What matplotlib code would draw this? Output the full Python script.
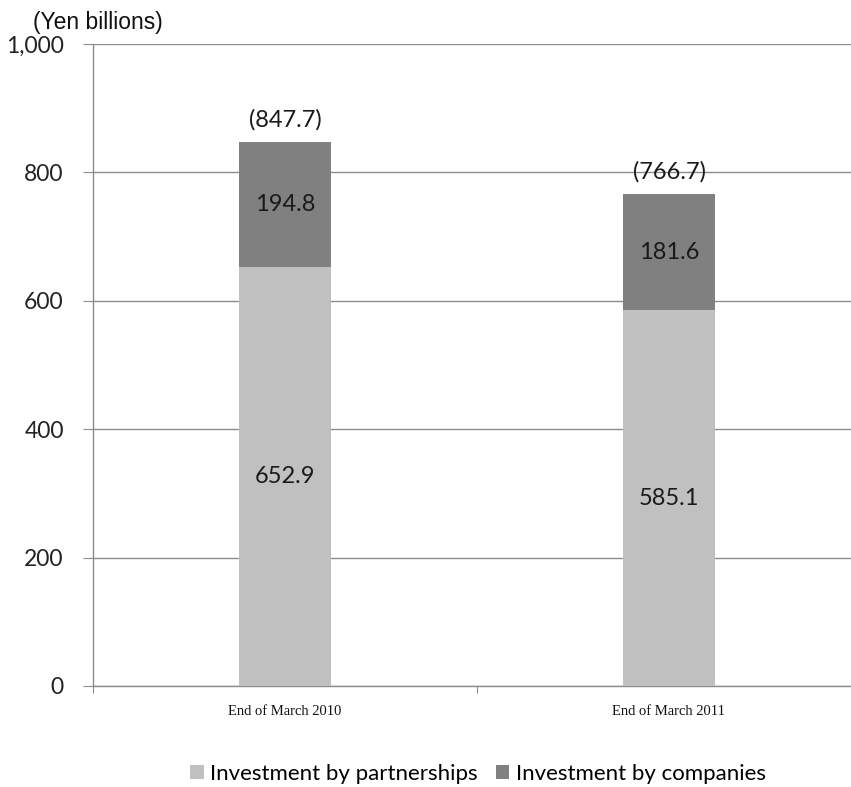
import matplotlib
matplotlib.use("Agg")
import matplotlib.pyplot as plt
from matplotlib.ticker import FuncFormatter

categories = ["End of March 2010", "End of March 2011"]
partnerships = [652.9, 585.1]
companies = [194.8, 181.6]
totals = [847.7, 766.7]
yticks = [0, 200, 400, 600, 800, 1000]

LIGHT = "#c0c0c0"
DARK = "#808080"
GRID = "#8c8c8c"
LABEL_FONT = ["Lato", "DejaVu Sans"]

fig = plt.figure(figsize=(8.51, 7.87), dpi=100)
ax = fig.add_axes([93 / 851, 1 - 686 / 787, 768 / 851, 642 / 787])

x = list(range(len(categories)))
b1 = ax.bar(x, partnerships, width=0.24, color=LIGHT, zorder=3,
            label="Investment by partnerships")
b2 = ax.bar(x, companies, width=0.24, bottom=partnerships, color=DARK, zorder=3,
            label="Investment by companies")

for i in x:
    ax.text(i, partnerships[i] / 2, f"{partnerships[i]:.1f}", ha="center", va="center",
            fontsize=17, family=LABEL_FONT, color="#1a1a1a", zorder=4)
    ax.text(i, partnerships[i] + companies[i] / 2, f"{companies[i]:.1f}", ha="center",
            va="center", fontsize=17, family=LABEL_FONT, color="#1a1a1a", zorder=4)
    ax.text(i, totals[i] + 17, f"({totals[i]:.1f})", ha="center", va="bottom",
            fontsize=17, family=LABEL_FONT, color="#1a1a1a", zorder=4)

ax.set_xlim(-0.5, 1.5)
ax.set_ylim(0, 1000)
ax.set_yticks(yticks)
ax.yaxis.set_major_formatter(FuncFormatter(lambda v, p: f"{int(v):,}"))
ax.tick_params(axis="y", length=7, color=GRID, labelsize=16.5, labelcolor="#222222", pad=14)
for lbl in ax.get_yticklabels():
    lbl.set_family(LABEL_FONT)
ax.yaxis.grid(True, color=GRID, linewidth=1, zorder=0)

# category boundaries get the ticks, names sit under the bars
ax.set_xticks([-0.5, 0.5, 1.5])
ax.set_xticklabels([])
ax.tick_params(axis="x", length=5, color=GRID)
for i, name in enumerate(categories):
    ax.text(i, -40, name, ha="center", va="center", fontsize=10.5,
            family="Liberation Serif", color="#111111")

for side in ["top", "right"]:
    ax.spines[side].set_visible(False)
for side in ["left", "bottom"]:
    ax.spines[side].set_color(GRID)
    ax.spines[side].set_linewidth(1)

fig.text(33 / 851, 1 - 22 / 787, "(Yen billions)", ha="left", va="center",
         fontsize=16.5, family="Liberation Sans", color="#111111")

leg = fig.legend(handles=[b1, b2], loc="center", bbox_to_anchor=(478 / 851, 1 - 774 / 787),
                 ncol=2, frameon=False, prop={"family": LABEL_FONT, "size": 16},
                 handlelength=0.6, handleheight=0.6, handletextpad=0.3, columnspacing=0.8)

fig.savefig("out.png", dpi=100)
